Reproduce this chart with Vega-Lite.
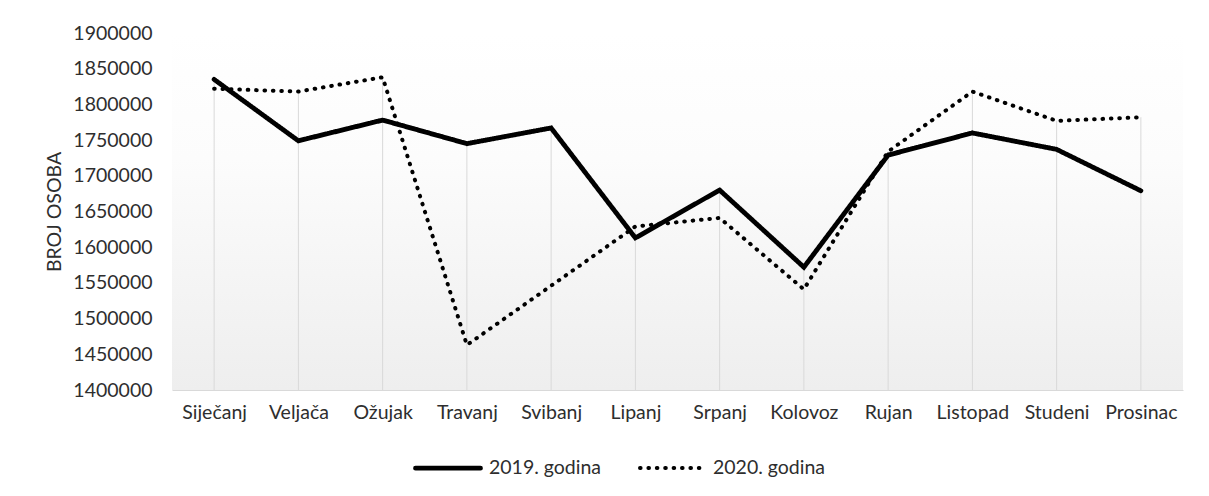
{
  "$schema": "https://vega.github.io/schema/vega-lite/v6.json",
  "autosize": {"type": "none"},
  "padding": {"left": 172, "top": 33, "right": 26, "bottom": 106},
  "width": 1011,
  "height": 357,
  "background": "#ffffff",
  "config": {
    "view": {"stroke": null},
    "font": "Lato",
    "axis": {"labelFont": "Lato", "titleFont": "Lato", "labelColor": "#2e2e2e", "titleColor": "#2e2e2e"},
    "legend": {"labelFont": "Lato", "labelColor": "#2e2e2e"}
  },
  "data": {
    "values": [
      {"month": "Siječanj", "series": "2019. godina", "value": 1835000},
      {"month": "Veljača", "series": "2019. godina", "value": 1749000},
      {"month": "Ožujak", "series": "2019. godina", "value": 1778000},
      {"month": "Travanj", "series": "2019. godina", "value": 1745000},
      {"month": "Svibanj", "series": "2019. godina", "value": 1767000},
      {"month": "Lipanj", "series": "2019. godina", "value": 1613000},
      {"month": "Srpanj", "series": "2019. godina", "value": 1680000},
      {"month": "Kolovoz", "series": "2019. godina", "value": 1572000},
      {"month": "Rujan", "series": "2019. godina", "value": 1729000},
      {"month": "Listopad", "series": "2019. godina", "value": 1760000},
      {"month": "Studeni", "series": "2019. godina", "value": 1737000},
      {"month": "Prosinac", "series": "2019. godina", "value": 1679000},
      {"month": "Siječanj", "series": "2020. godina", "value": 1822000},
      {"month": "Veljača", "series": "2020. godina", "value": 1818000},
      {"month": "Ožujak", "series": "2020. godina", "value": 1838000},
      {"month": "Travanj", "series": "2020. godina", "value": 1463000},
      {"month": "Svibanj", "series": "2020. godina", "value": 1546000},
      {"month": "Lipanj", "series": "2020. godina", "value": 1629000},
      {"month": "Srpanj", "series": "2020. godina", "value": 1641000},
      {"month": "Kolovoz", "series": "2020. godina", "value": 1541000},
      {"month": "Rujan", "series": "2020. godina", "value": 1734000},
      {"month": "Listopad", "series": "2020. godina", "value": 1818000},
      {"month": "Studeni", "series": "2020. godina", "value": 1777000},
      {"month": "Prosinac", "series": "2020. godina", "value": 1782000}
    ]
  },
  "layer": [
    {
      "data": {"values": [{"bg": 1}]},
      "mark": {
        "type": "rect",
        "color": {
          "gradient": "linear",
          "x1": 0, "y1": 0, "x2": 0, "y2": 1,
          "stops": [
            {"offset": 0, "color": "#ffffff"},
            {"offset": 0.35, "color": "#fcfcfc"},
            {"offset": 1, "color": "#eeeeee"}
          ]
        }
      },
      "encoding": {}
    },
    {
      "mark": {"type": "rule", "color": "#d9d9d9", "strokeWidth": 1},
      "encoding": {
        "x": {
          "field": "month", "type": "nominal",
          "sort": ["Siječanj", "Veljača", "Ožujak", "Travanj", "Svibanj", "Lipanj", "Srpanj", "Kolovoz", "Rujan", "Listopad", "Studeni", "Prosinac"],
          "scale": {"type": "point", "padding": 0.5},
          "axis": {
            "title": null, "labelAngle": 0, "labelFontSize": 19.5, "labelPadding": 13,
            "labelOverlap": false,
            "ticks": false, "tickSize": 0, "grid": false,
            "domain": true, "domainColor": "#d9d9d9", "domainWidth": 1
          }
        },
        "y": {
          "aggregate": "max", "field": "value", "type": "quantitative",
          "scale": {"domain": [1400000, 1900000], "nice": false, "zero": false},
          "axis": {
            "title": "BROJ OSOBA", "titleFontSize": 19.5, "titleFontWeight": "normal", "titlePadding": 8,
            "values": [1400000, 1450000, 1500000, 1550000, 1600000, 1650000, 1700000, 1750000, 1800000, 1850000, 1900000],
            "format": "d", "labelFontSize": 19.5, "labelPadding": 20,
            "labelOverlap": false, "labelBound": false,
            "ticks": false, "tickSize": 0, "grid": false, "domain": false
          }
        },
        "y2": {"datum": 1400000}
      }
    },
    {
      "mark": {"type": "line", "color": "#000000", "strokeCap": "round", "strokeJoin": "miter"},
      "encoding": {
        "x": {
          "field": "month", "type": "nominal",
          "sort": ["Siječanj", "Veljača", "Ožujak", "Travanj", "Svibanj", "Lipanj", "Srpanj", "Kolovoz", "Rujan", "Listopad", "Studeni", "Prosinac"],
          "axis": {
            "title": null, "labelAngle": 0, "labelFontSize": 19.5, "labelPadding": 13,
            "labelOverlap": false,
            "ticks": false, "tickSize": 0, "grid": false,
            "domain": true, "domainColor": "#d9d9d9", "domainWidth": 1
          }
        },
        "y": {
          "field": "value", "type": "quantitative",
          "axis": {
            "title": "BROJ OSOBA", "titleFontSize": 19.5, "titleFontWeight": "normal", "titlePadding": 8,
            "values": [1400000, 1450000, 1500000, 1550000, 1600000, 1650000, 1700000, 1750000, 1800000, 1850000, 1900000],
            "format": "d", "labelFontSize": 19.5, "labelPadding": 20,
            "labelOverlap": false, "labelBound": false,
            "ticks": false, "tickSize": 0, "grid": false, "domain": false
          }
        },
        "strokeDash": {
          "field": "series", "type": "nominal",
          "scale": {"domain": ["2019. godina", "2020. godina"], "range": [[1, 0], [0.6, 7.8]]},
          "legend": {
            "title": null, "orient": "none", "legendX": 241, "legendY": 400, "direction": "horizontal",
            "symbolType": "stroke", "symbolSize": 4225, "symbolStrokeColor": "#000000",
            "labelFontSize": 19.5, "labelOffset": 6, "columnPadding": 30,
            "encode": {"symbols": {"update": {"strokeCap": {"value": "round"}}}}
          }
        },
        "strokeWidth": {
          "field": "series", "type": "nominal",
          "scale": {"domain": ["2019. godina", "2020. godina"], "range": [4.8, 4]},
          "legend": null
        }
      }
    }
  ]
}
